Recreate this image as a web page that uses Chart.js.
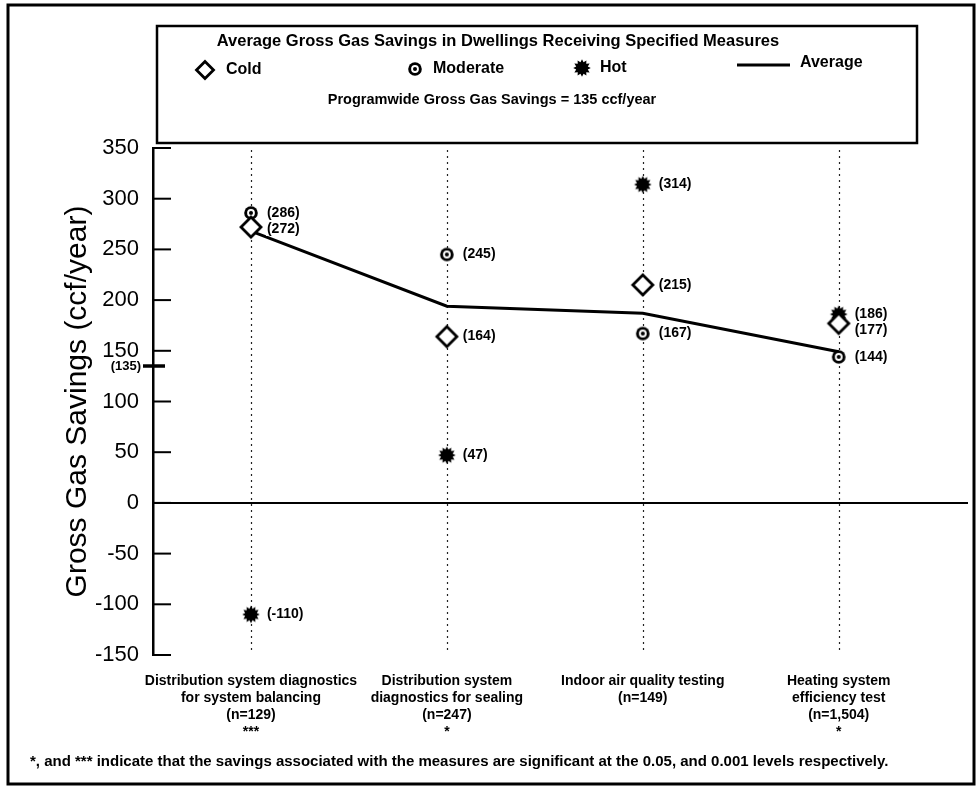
<!DOCTYPE html>
<html>
<head>
<meta charset="utf-8">
<script src="https://cdn.jsdelivr.net/npm/chart.js@4.4.1/dist/chart.umd.min.js"></script>
<style>
  html, body { margin: 0; padding: 0; background: #fff; }
  #wrap { position: relative; width: 979px; height: 799px; }
</style>
</head>
<body>
<div id="wrap"><canvas id="chart"></canvas></div>
<script>
// Measures (x categories), sample sizes and significance markers
const categories = [
  'Distribution system diagnostics\nfor system balancing',
  'Distribution system\ndiagnostics for sealing',
  'Indoor air quality testing',
  'Heating system\nefficiency test'
];
const sampleSizes = ['129', '247', '149', '1,504'];
const significance = ['***', '*', '', '*'];

// Average gross gas savings (ccf/year) by climate zone
const coldSavings = [272, 164, 215, 177];
const moderateSavings = [286, 245, 167, 144];
const hotSavings = [-110, 47, 314, 186];
const averageSavings = [268, 194, 187, 149];
const programwideSavings = 135;

const yTickValues = [-150, -100, -50, 0, 50, 100, 150, 200, 250, 300, 350];

const FONT = "'Liberation Sans', Arial, Helvetica, sans-serif";

// Marker glyphs
function symbolCanvas(size, draw) {
  const c = document.createElement('canvas');
  c.width = size; c.height = size;
  const g = c.getContext('2d');
  draw(g, size / 2);
  return c;
}
function drawDiamond(g, cx, cy, r) {
  g.beginPath();
  g.moveTo(cx, cy - r); g.lineTo(cx + r, cy); g.lineTo(cx, cy + r); g.lineTo(cx - r, cy);
  g.closePath();
  g.fillStyle = '#fff'; g.fill();
  g.lineWidth = 2.8; g.strokeStyle = '#000'; g.lineJoin = 'miter'; g.stroke();
}
function drawRing(g, cx, cy) {
  g.fillStyle = '#000';
  g.beginPath(); g.arc(cx, cy, 6.8, 0, Math.PI * 2); g.fill();
  g.fillStyle = '#fff';
  g.beginPath(); g.arc(cx, cy, 3.9, 0, Math.PI * 2); g.fill();
  g.fillStyle = '#000';
  g.beginPath(); g.arc(cx, cy, 2.0, 0, Math.PI * 2); g.fill();
}
function drawBurst(g, cx, cy) {
  const spikes = 12, outer = 8.8, inner = 6.0;
  g.beginPath();
  for (let k = 0; k < spikes * 2; k++) {
    const r = k % 2 === 0 ? outer : inner;
    const a = Math.PI * k / spikes - Math.PI / 2;
    const px = cx + r * Math.cos(a), py = cy + r * Math.sin(a);
    if (k === 0) g.moveTo(px, py); else g.lineTo(px, py);
  }
  g.closePath();
  g.fillStyle = '#000'; g.fill();
}
const diamondSymbol = symbolCanvas(26, (g, m) => drawDiamond(g, m, m, 10));
const ringSymbol = symbolCanvas(16, (g, m) => drawRing(g, m, m));
const burstSymbol = symbolCanvas(20, (g, m) => drawBurst(g, m, m));

const toPoints = vals => vals.map((v, i) => ({ x: i + 1, y: v }));

const decor = {
  id: 'decor',
  beforeDraw(chart) {
    const ctx = chart.ctx;
    ctx.save();
    ctx.fillStyle = '#fff';
    ctx.fillRect(0, 0, chart.width, chart.height);
    // page frame
    ctx.strokeStyle = '#000';
    ctx.lineWidth = 3;
    ctx.strokeRect(8, 5, 966, 779);
    // legend box
    ctx.lineWidth = 2.5;
    ctx.strokeRect(157, 26, 760, 117);
    ctx.fillStyle = '#000';
    ctx.textBaseline = 'middle';
    ctx.textAlign = 'center';
    ctx.font = 'bold 16.5px ' + FONT;
    ctx.fillText('Average Gross Gas Savings in Dwellings Receiving Specified Measures', 498, 41);
    ctx.font = 'bold 14.5px ' + FONT;
    ctx.fillText('Programwide Gross Gas Savings = ' + programwideSavings + ' ccf/year', 492, 100);
    ctx.textAlign = 'left';
    ctx.font = 'bold 16px ' + FONT;
    drawDiamond(ctx, 205, 70, 8.5);
    ctx.fillStyle = '#000';
    ctx.fillText('Cold', 226, 70);
    drawRing(ctx, 415, 69);
    ctx.fillText('Moderate', 433, 69);
    drawBurst(ctx, 582, 68);
    ctx.fillText('Hot', 600, 68);
    ctx.lineWidth = 3;
    ctx.beginPath(); ctx.moveTo(737, 65); ctx.lineTo(790, 65); ctx.stroke();
    ctx.fillText('Average', 800, 63);
    // footnote
    ctx.font = 'bold 15px ' + FONT;
    ctx.fillText('*, and *** indicate that the savings associated with the measures are significant at the 0.05, and 0.001 levels respectively.', 30, 762, 862);
    ctx.restore();
  },
  beforeDatasetsDraw(chart) {
    const { ctx, chartArea: a, scales: { x, y } } = chart;
    ctx.save();
    // dotted guide per measure
    ctx.strokeStyle = '#222';
    ctx.lineWidth = 1.2;
    ctx.setLineDash([2, 4]);
    categories.forEach((_, i) => {
      const px = Math.round(x.getPixelForValue(i + 1)) + 0.5;
      ctx.beginPath(); ctx.moveTo(px, a.top + 2); ctx.lineTo(px, a.bottom - 2); ctx.stroke();
    });
    ctx.setLineDash([]);
    // zero line
    const y0 = y.getPixelForValue(0);
    ctx.strokeStyle = '#000';
    ctx.lineWidth = 2;
    ctx.beginPath(); ctx.moveTo(a.left, y0); ctx.lineTo(a.right, y0); ctx.stroke();
    // inward tick marks
    yTickValues.forEach(v => {
      const py = y.getPixelForValue(v);
      ctx.beginPath(); ctx.moveTo(a.left, py); ctx.lineTo(a.left + 18, py); ctx.stroke();
    });
    // programwide savings marker
    const pp = y.getPixelForValue(programwideSavings);
    ctx.lineWidth = 3.5;
    ctx.beginPath(); ctx.moveTo(a.left - 10, pp); ctx.lineTo(a.left + 12, pp); ctx.stroke();
    ctx.fillStyle = '#000';
    ctx.font = 'bold 13px ' + FONT;
    ctx.textAlign = 'right';
    ctx.textBaseline = 'middle';
    ctx.fillText('(' + programwideSavings + ')', a.left - 12, pp);
    ctx.restore();
  },
  afterDatasetsDraw(chart) {
    const ctx = chart.ctx;
    ctx.save();
    ctx.font = 'bold 14px ' + FONT;
    ctx.textAlign = 'left';
    ctx.textBaseline = 'middle';
    categories.forEach((_, i) => {
      const items = [1, 2, 3].map(di => {
        const el = chart.getDatasetMeta(di).data[i];
        return { x: el.x + 16, y: el.y, text: '(' + chart.data.datasets[di].data[i].y + ')' };
      }).sort((p, q) => p.y - q.y);
      for (let k = 1; k < items.length; k++) {
        if (items[k].y < items[k - 1].y + 16) items[k].y = items[k - 1].y + 16;
      }
      items.forEach(it => {
        const w = ctx.measureText(it.text).width;
        ctx.fillStyle = '#fff';
        ctx.fillRect(it.x - 1, it.y - 7, w + 2, 14);
        ctx.fillStyle = '#000';
        ctx.fillText(it.text, it.x, it.y);
      });
    });
    ctx.restore();
  },
  afterDraw(chart) {
    const { ctx, chartArea: a, scales: { x } } = chart;
    ctx.save();
    ctx.fillStyle = '#000';
    ctx.font = 'bold 14px ' + FONT;
    ctx.textAlign = 'center';
    ctx.textBaseline = 'middle';
    categories.forEach((name, i) => {
      const px = x.getPixelForValue(i + 1);
      const lines = name.split('\n').concat(['(n=' + sampleSizes[i] + ')']);
      if (significance[i]) lines.push(significance[i]);
      lines.forEach((t, k) => ctx.fillText(t, px, a.bottom + 26 + k * 17));
    });
    ctx.restore();
  }
};

new Chart(document.getElementById('chart'), {
  type: 'line',
  data: {
    datasets: [
      { label: 'Average', data: toPoints(averageSavings), borderColor: '#000', borderWidth: 3,
        pointRadius: 0, tension: 0, order: 4 },
      { label: 'Cold', data: toPoints(coldSavings), showLine: false, pointStyle: diamondSymbol,
        pointRadius: 10, order: 1 },
      { label: 'Moderate', data: toPoints(moderateSavings), showLine: false, pointStyle: ringSymbol,
        pointRadius: 7, order: 2 },
      { label: 'Hot', data: toPoints(hotSavings), showLine: false, pointStyle: burstSymbol,
        pointRadius: 9, order: 3 }
    ]
  },
  options: {
    responsive: true,
    maintainAspectRatio: false,
    animation: false,
    events: [],
    layout: { padding: { left: 0, top: 148, right: 11, bottom: 144 } },
    plugins: { legend: { display: false }, tooltip: { enabled: false } },
    scales: {
      x: { type: 'linear', min: 0.5, max: 4.66, display: false },
      y: {
        min: -150, max: 350,
        afterBuildTicks: s => { s.ticks = yTickValues.map(v => ({ value: v })); },
        afterFit: s => { s.width = 153; },
        grid: { display: false, drawTicks: false },
        border: { display: true, color: '#000', width: 2.5 },
        ticks: { color: '#000', font: { family: FONT, size: 22 }, padding: 14 },
        title: { display: true, text: 'Gross Gas Savings (ccf/year)', color: '#000',
                 font: { family: FONT, size: 30 }, padding: { top: 60, bottom: 0 } }
      }
    }
  },
  plugins: [decor]
});
</script>
</body>
</html>
